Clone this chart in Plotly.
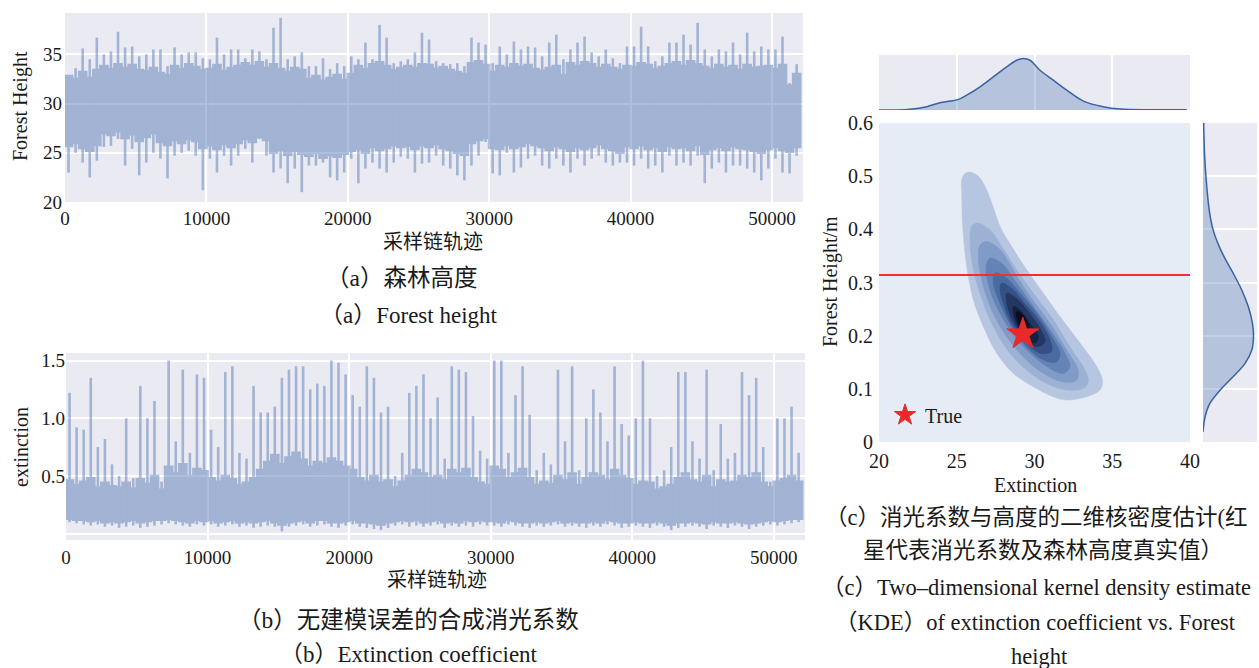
import plotly.graph_objects as go

W, H = 1259, 668
SERIF = "Liberation Serif, Noto Sans CJK SC"
TXT = "#1a1a1a"

# ---------------- data: MCMC trace of forest height (per 500-iteration bin) ----------------
BIN = 500
height_max = [32.8, 33.6, 35.6, 34.5, 36.7, 35.0, 35.3, 37.3, 35.7, 35.8,
              34.8, 35.0, 35.5, 35.5, 33.8, 35.7, 35.0, 35.2, 35.2, 34.6,
              34.5, 36.7, 35.0, 35.5, 35.5, 34.6, 35.5, 35.3, 34.5, 37.7,
              38.7, 34.5, 34.8, 35.2, 33.8, 33.8, 34.6, 33.5, 34.1, 33.8,
              34.8, 34.5, 36.2, 34.5, 38.0, 36.7, 34.1, 34.3, 34.5, 35.2,
              37.2, 36.5, 34.3, 34.1, 34.0, 34.1, 33.8, 36.7, 36.2, 36.0,
              34.1, 35.8, 35.0, 36.3, 35.5, 35.8, 35.7, 34.8, 36.2, 37.0,
              34.5, 35.5, 36.2, 36.8, 35.2, 34.8, 35.5, 34.6, 34.1, 35.8,
              35.8, 37.8, 35.8, 34.3, 34.8, 36.2, 36.2, 37.0, 36.0, 38.2,
              35.5, 34.8, 35.5, 35.3, 36.2, 35.0, 37.2, 35.3, 35.8, 35.5,
              35.5, 36.8, 32.1, 34.0]
height_min = [23.0, 25.0, 24.0, 22.5, 24.2, 25.6, 25.7, 26.4, 23.7, 25.4,
              22.7, 24.0, 25.0, 24.4, 22.4, 24.7, 25.0, 25.2, 24.7, 21.2,
              24.4, 23.0, 24.7, 23.7, 24.7, 25.4, 24.0, 26.4, 24.7, 23.0,
              23.4, 21.9, 23.4, 21.0, 23.7, 23.7, 24.0, 22.5, 22.2, 23.0,
              24.4, 21.9, 23.4, 24.0, 23.4, 23.0, 24.0, 24.6, 24.4, 23.0,
              23.9, 24.0, 24.7, 23.7, 23.4, 22.7, 22.2, 23.7, 24.7, 26.1,
              22.9, 22.7, 25.0, 23.0, 23.5, 24.4, 24.7, 23.7, 23.4, 24.4,
              23.7, 23.0, 24.4, 23.7, 24.4, 24.7, 24.0, 23.7, 24.0, 24.0,
              23.7, 24.4, 23.4, 23.7, 23.0, 24.7, 23.7, 24.0, 23.7, 24.7,
              21.9, 23.4, 24.0, 23.0, 23.7, 23.7, 23.4, 23.0, 22.2, 23.4,
              24.4, 23.0, 22.9, 24.7]
height_core_hi = [32.8, 32.5, 33.2, 32.6, 33.4, 33.8, 33.5, 34.0, 33.6, 33.9,
                  33.4, 33.3, 33.6, 33.1, 32.9, 33.8, 33.5, 34.0, 33.7, 33.4,
                  33.5, 33.9, 33.3, 33.6, 33.8, 34.1, 33.8, 34.2, 33.6, 34.0,
                  33.5, 33.2, 33.6, 33.4, 32.5, 32.8, 32.3, 32.6, 32.9, 32.4,
                  33.0, 33.8, 33.5, 34.0, 34.2, 33.8, 33.4, 33.6, 33.8, 33.6,
                  34.0, 33.9, 33.5, 33.7, 33.4, 33.2, 33.0, 34.1, 34.3, 33.9,
                  33.2, 33.8, 33.6, 34.0, 33.7, 33.9, 33.5, 33.3, 33.6, 33.8,
                  32.9, 34.1, 33.8, 34.2, 34.0, 33.6, 33.9, 33.6, 33.4, 33.8,
                  33.7, 34.1, 33.9, 33.5, 33.7, 34.0, 34.2, 33.8, 34.3, 34.0,
                  33.7, 33.5, 33.9, 33.6, 33.8, 33.4, 33.9, 33.6, 33.7, 33.8,
                  33.5, 33.9, 31.8, 33.0]
height_core_lo = [25.7, 26.0, 25.5, 25.2, 25.8, 27.0, 26.8, 27.2, 26.5, 26.9,
                  26.2, 26.6, 27.0, 26.1, 25.8, 26.3, 26.0, 26.4, 26.2, 25.5,
                  25.8, 25.4, 25.9, 25.6, 26.0, 26.4, 26.1, 26.6, 26.3, 25.0,
                  25.3, 24.8, 25.2, 24.9, 24.7, 25.0, 24.5, 24.8, 24.6, 24.9,
                  25.2, 25.4, 25.0, 25.6, 25.3, 25.5, 25.8, 25.6, 25.7, 25.4,
                  25.8, 25.6, 25.9, 25.5, 25.3, 25.0, 24.8, 26.0, 26.3, 26.5,
                  25.5, 25.4, 25.8, 25.5, 25.7, 26.0, 25.8, 25.6, 25.3, 25.7,
                  25.5, 25.2, 25.6, 25.4, 25.6, 25.9, 25.5, 25.3, 25.0, 25.7,
                  25.5, 25.8, 25.4, 25.6, 25.2, 25.7, 25.5, 25.6, 25.3, 25.8,
                  24.9, 25.4, 25.6, 25.3, 25.7, 25.5, 25.4, 25.2, 25.0, 25.4,
                  25.6, 25.3, 25.1, 25.6]

# ---------------- data: MCMC trace of extinction (per 500-iteration bin) ----------------
ext_max = [1.22, 0.92, 0.90, 1.35, 0.75, 0.82, 0.60, 0.50, 1.00, 0.48,
           1.28, 1.00, 1.15, 0.45, 1.50, 0.80, 1.42, 0.70, 1.38, 1.35,
           0.90, 0.75, 1.40, 1.45, 0.70, 0.65, 1.28, 1.05, 1.05, 1.10,
           1.35, 1.42, 1.45, 1.45, 1.25, 1.30, 1.28, 1.50, 1.48, 1.38,
           1.20, 1.10, 1.45, 1.35, 1.05, 1.10, 0.50, 0.70, 1.22, 1.28,
           1.38, 1.00, 1.18, 0.65, 1.45, 1.42, 1.40, 1.02, 0.72, 0.65,
           1.50, 1.50, 0.70, 1.20, 1.45, 1.03, 0.55, 0.70, 0.60, 1.42,
           0.80, 1.45, 0.55, 1.00, 1.25, 1.05, 0.80, 1.45, 0.95, 0.85,
           1.00, 1.50, 1.00, 0.50, 0.55, 0.75, 1.40, 1.40, 0.80, 0.65,
           1.42, 0.55, 0.95, 0.65, 0.70, 1.40, 1.20, 1.35, 0.75, 0.45,
           1.00, 1.00, 1.10, 0.70]
ext_min = [0.10, 0.09, 0.08, 0.07, 0.08, 0.06, 0.07, 0.05, 0.06, 0.07,
           0.05, 0.06, 0.07, 0.08, 0.09, 0.08, 0.07, 0.06, 0.08, 0.07,
           0.08, 0.06, 0.07, 0.08, 0.06, 0.07, 0.05, 0.06, 0.07, 0.06,
           0.02, 0.06, 0.07, 0.08, 0.06, 0.07, 0.08, 0.06, 0.05, 0.07,
           0.08, 0.06, 0.05, 0.04, 0.03, 0.05, 0.07, 0.08, 0.06, 0.07,
           0.06, 0.07, 0.08, 0.05, 0.07, 0.06, 0.07, 0.06, 0.08, 0.07,
           0.07, 0.06, 0.08, 0.07, 0.06, 0.05, 0.07, 0.06, 0.07, 0.08,
           0.06, 0.07, 0.06, 0.05, 0.07, 0.06, 0.08, 0.07, 0.05, 0.06,
           0.07, 0.06, 0.05, 0.07, 0.06, 0.03, 0.05, 0.06, 0.07, 0.06,
           0.04, 0.07, 0.06, 0.05, 0.07, 0.06, 0.04, 0.06, 0.07, 0.08,
           0.07, 0.08, 0.09, 0.10]
ext_core_hi = [0.46, 0.42, 0.45, 0.48, 0.40, 0.44, 0.41, 0.40, 0.44, 0.39,
               0.47, 0.43, 0.50, 0.38, 0.58, 0.52, 0.60, 0.50, 0.56, 0.54,
               0.48, 0.45, 0.50, 0.47, 0.42, 0.44, 0.48, 0.55, 0.62, 0.68,
               0.60, 0.66, 0.70, 0.64, 0.58, 0.62, 0.60, 0.65, 0.62, 0.58,
               0.55, 0.48, 0.45, 0.50, 0.44, 0.46, 0.40, 0.45, 0.50, 0.55,
               0.52, 0.48, 0.50, 0.46, 0.55, 0.52, 0.56, 0.48, 0.44, 0.42,
               0.58, 0.55, 0.48, 0.52, 0.56, 0.48, 0.42, 0.45, 0.43, 0.50,
               0.46, 0.52, 0.42, 0.48, 0.52, 0.50, 0.46, 0.55, 0.50, 0.47,
               0.42, 0.45, 0.44, 0.38, 0.40, 0.42, 0.48, 0.52, 0.46, 0.44,
               0.50, 0.40, 0.46, 0.44, 0.45, 0.50, 0.48, 0.52, 0.44, 0.40,
               0.45, 0.47, 0.50, 0.45]
ext_core_lo = [0.13, 0.12, 0.12, 0.11, 0.12, 0.10, 0.11, 0.10, 0.11, 0.12,
               0.10, 0.11, 0.12, 0.12, 0.13, 0.12, 0.11, 0.10, 0.12, 0.11,
               0.12, 0.10, 0.11, 0.12, 0.10, 0.11, 0.10, 0.11, 0.12, 0.10,
               0.08, 0.10, 0.11, 0.12, 0.10, 0.12, 0.12, 0.10, 0.10, 0.11,
               0.12, 0.10, 0.10, 0.09, 0.08, 0.10, 0.11, 0.12, 0.11, 0.12,
               0.10, 0.11, 0.12, 0.10, 0.11, 0.10, 0.12, 0.11, 0.12, 0.11,
               0.11, 0.10, 0.12, 0.11, 0.10, 0.10, 0.11, 0.10, 0.11, 0.12,
               0.10, 0.11, 0.10, 0.10, 0.11, 0.10, 0.12, 0.11, 0.10, 0.10,
               0.11, 0.10, 0.10, 0.11, 0.10, 0.08, 0.10, 0.10, 0.11, 0.10,
               0.09, 0.11, 0.10, 0.10, 0.11, 0.10, 0.09, 0.10, 0.11, 0.12,
               0.11, 0.12, 0.13, 0.13]

trace_ticks = [0, 10000, 20000, 30000, 40000, 50000]

# ---------------- data: 2-D KDE contour outlines (extinction, height) ----------------
kde_x_1 = [25.85, 26.39, 26.82, 27.25, 27.78, 28.53, 29.50, 30.57, 31.64, 32.93, 34.0, 34.38, 34.21,
           33.35, 32.07, 31.21, 29.93, 28.64, 27.57, 26.71, 26.07, 25.64, 25.38, 25.32, 25.32, 25.53]
kde_y_1 = [0.508, 0.500, 0.481, 0.450, 0.406, 0.368, 0.324, 0.280, 0.236, 0.186, 0.142, 0.116, 0.098,
           0.085, 0.079, 0.085, 0.104, 0.129, 0.167, 0.217, 0.267, 0.330, 0.406, 0.469, 0.494, 0.505]
kde_x_2 = [26.28, 27.14, 27.89, 28.85, 29.93, 31.21, 32.28, 33.25, 33.46, 33.14, 32.07, 30.78, 29.5,
           28.42, 27.46, 26.71, 26.07, 25.85, 25.96]
kde_y_2 = [0.412, 0.399, 0.368, 0.324, 0.280, 0.230, 0.179, 0.135, 0.113, 0.101, 0.098, 0.110, 0.135,
           0.167, 0.211, 0.261, 0.324, 0.381, 0.406]
kde_x_3 = [26.92, 27.78, 28.75, 29.71, 31.0, 32.07, 32.82, 32.71, 31.85, 30.57, 29.28, 28.21, 27.25,
           26.6, 26.39, 26.5]
kde_y_3 = [0.377, 0.362, 0.318, 0.274, 0.223, 0.173, 0.135, 0.116, 0.113, 0.129, 0.160, 0.198, 0.248,
           0.305, 0.349, 0.371]
kde_x_4 = [27.14, 27.89, 28.85, 29.93, 31.0, 31.96, 32.28, 31.85, 30.78, 29.5, 28.42, 27.46, 26.92, 26.92]
kde_y_4 = [0.346, 0.336, 0.299, 0.255, 0.211, 0.167, 0.142, 0.129, 0.142, 0.173, 0.211, 0.261, 0.311, 0.336]
kde_x_5 = [27.46, 28.21, 29.07, 30.14, 31.1, 31.64, 31.43, 30.57, 29.5, 28.53, 27.78, 27.35]
kde_y_5 = [0.318, 0.308, 0.280, 0.242, 0.198, 0.167, 0.151, 0.154, 0.179, 0.217, 0.261, 0.299]
kde_x_6 = [27.89, 28.53, 29.28, 30.25, 31.0, 31.1, 30.35, 29.39, 28.53, 27.99, 27.78]
kde_y_6 = [0.299, 0.289, 0.264, 0.230, 0.192, 0.170, 0.167, 0.189, 0.223, 0.261, 0.286]
kde_x_7 = [28.21, 28.85, 29.6, 30.35, 30.68, 30.14, 29.28, 28.53, 28.21]
kde_y_7 = [0.280, 0.270, 0.245, 0.214, 0.189, 0.179, 0.198, 0.233, 0.261]
kde_x_8 = [28.64, 29.07, 29.71, 30.25, 30.03, 29.39, 28.85, 28.64]
kde_y_8 = [0.255, 0.248, 0.223, 0.198, 0.186, 0.198, 0.223, 0.242]
kde_x_9 = [28.85, 29.18, 29.6, 29.5, 29.18, 28.9]
kde_y_9 = [0.245, 0.241, 0.220, 0.208, 0.214, 0.230]
kde_colors = ["rgb(182,198,224)", "rgb(156,177,212)", "rgb(128,155,198)", "rgb(100,131,182)",
              "rgb(74,106,160)", "rgb(52,80,132)", "rgb(35,55,98)", "rgb(20,32,64)", "rgb(8,12,28)"]

# marginal densities
marg_top_x = [20.0, 21.14, 21.99, 23.07, 23.92, 24.57, 25.10, 25.64, 26.50, 27.35, 28.21, 28.85,
              29.28, 29.71, 30.35, 31.21, 32.07, 33.14, 34.43, 35.50, 37.64, 39.79]
marg_top_d = [0.0, 0.0, 0.013, 0.065, 0.142, 0.174, 0.206, 0.29, 0.452, 0.645, 0.839, 0.968,
              1.0, 0.968, 0.774, 0.581, 0.387, 0.174, 0.065, 0.019, 0.006, 0.006]
marg_right_y = [0.600, 0.537, 0.474, 0.430, 0.399, 0.368, 0.342, 0.317, 0.286, 0.254, 0.223,
                0.198, 0.173, 0.148, 0.123, 0.097, 0.072, 0.047, 0.019]
marg_right_d = [0.013, 0.033, 0.08, 0.133, 0.2, 0.32, 0.453, 0.6, 0.767, 0.9, 0.98,
                1.0, 0.967, 0.833, 0.6, 0.333, 0.133, 0.04, 0.0]

true_extinction = 29.25
true_height = 0.203
red_line_height = 0.314

kde_xticks = [20, 25, 30, 35, 40]
kde_yticks = [0, 0.1, 0.2, 0.3, 0.4, 0.5, 0.6]
kde_yticktext = ["0", "0.1", "0.2", "0.3", "0.4", "0.5", "0.6"]

# ---------------- figure ----------------
def trace_path(vmax, vmin, core_hi, core_lo):
    n = len(core_hi)
    xs, ys = [], []
    for i in range(n):
        xs += [i * BIN, (i + 1) * BIN]
        ys += [core_hi[i], core_hi[i]]
    for i in reversed(range(n)):
        xs += [(i + 1) * BIN, i * BIN]
        ys += [core_lo[i], core_lo[i]]
    xs.append(xs[0]); ys.append(ys[0])
    for i, (a, b) in enumerate(zip(vmax, vmin)):
        c = i * BIN + BIN / 2
        xs += [None, c, c]
        ys += [None, b, a]
    return xs, ys

fig = go.Figure()
SB = "#4C72B0"
for (mx, mn, hi, lo, xa, ya) in [(height_max, height_min, height_core_hi, height_core_lo, "x", "y"),
                                 (ext_max, ext_min, ext_core_hi, ext_core_lo, "x2", "y2")]:
    xs, ys = trace_path(mx, mn, hi, lo)
    fig.add_trace(go.Scatter(x=xs, y=ys, mode="lines", fill="toself", fillcolor=SB,
                             line=dict(color=SB, width=2.6), opacity=0.45, connectgaps=False,
                             xaxis=xa, yaxis=ya, showlegend=False, hoverinfo="skip"))

kx = [kde_x_1, kde_x_2, kde_x_3, kde_x_4, kde_x_5, kde_x_6, kde_x_7, kde_x_8, kde_x_9]
ky = [kde_y_1, kde_y_2, kde_y_3, kde_y_4, kde_y_5, kde_y_6, kde_y_7, kde_y_8, kde_y_9]
for xs, ys, col in zip(kx, ky, kde_colors):
    fig.add_trace(go.Scatter(x=xs + [xs[0]], y=ys + [ys[0]], mode="lines", fill="toself",
                             fillcolor=col, line=dict(color=col, width=0.5, shape="spline", smoothing=1.0),
                             xaxis="x3", yaxis="y3", showlegend=False, hoverinfo="skip"))

fig.add_trace(go.Scatter(x=[true_extinction], y=[true_height], mode="markers", name="True",
                         marker=dict(symbol="star", size=24, color="#ea2a2a",
                                     line=dict(color="#ea2a2a", width=1)),
                         xaxis="x3", yaxis="y3", showlegend=True))

fig.add_trace(go.Scatter(x=marg_top_x, y=marg_top_d, mode="lines", fill="tozeroy",
                         fillcolor="rgba(76,114,176,0.33)", line=dict(color="#3a62a6", width=1.5, shape="spline"),
                         xaxis="x4", yaxis="y4", showlegend=False, hoverinfo="skip"))
fig.add_trace(go.Scatter(x=marg_right_d, y=marg_right_y, mode="lines", fill="tozerox",
                         fillcolor="rgba(76,114,176,0.33)", line=dict(color="#3a62a6", width=1.5, shape="spline"),
                         xaxis="x5", yaxis="y5", showlegend=False, hoverinfo="skip"))

def px_x(a, b):
    return [a / W, b / W]

def px_y(top, bottom):
    return [1 - bottom / H, 1 - top / H]

tickf = dict(family=SERIF, size=19, color=TXT)
tickf_k = dict(family=SERIF, size=20, color=TXT)
grid = dict(showgrid=True, gridcolor="white", gridwidth=1.6, zeroline=False, showline=False,
            ticks="", automargin=False)
plain = dict(zeroline=False, showline=False, ticks="", automargin=False)

fig.update_layout(
    width=W, height=H, autosize=False,
    margin=dict(l=0, r=0, t=0, b=0, pad=0, autoexpand=False),
    paper_bgcolor="white", plot_bgcolor="#eaeaf2",
    xaxis=dict(domain=px_x(65, 803), range=[0, 52200], anchor="y", tickvals=trace_ticks,
               ticktext=[str(t) for t in trace_ticks], tickfont=tickf, ticklabelstandoff=3, **grid),
    yaxis=dict(domain=px_y(13, 202), range=[20, 39.2], anchor="x", tickvals=[20, 25, 30, 35],
               tickfont=tickf, ticklabelstandoff=2, **grid),
    xaxis2=dict(domain=px_x(66, 805), range=[0, 52200], anchor="y2", tickvals=trace_ticks,
                ticktext=[str(t) for t in trace_ticks], tickfont=tickf, ticklabelstandoff=4, **grid),
    yaxis2=dict(domain=px_y(353, 540), range=[-0.055, 1.565], anchor="x2", tickvals=[0, 0.5, 1.0, 1.5],
                ticktext=["", "0.5", "1.0", "1.5"], tickfont=tickf, **grid),
    xaxis3=dict(domain=px_x(879, 1190), range=[20, 40], anchor="y3", tickvals=kde_xticks,
                tickfont=tickf_k, showgrid=False, ticklabelstandoff=5, **plain),
    yaxis3=dict(domain=px_y(123, 442), range=[0, 0.6], anchor="x3", tickvals=kde_yticks,
                ticktext=kde_yticktext, tickfont=tickf_k, showgrid=False, ticklabelstandoff=5, **plain),
    xaxis4=dict(domain=px_x(879, 1190), range=[20, 40], anchor="y4", tickvals=[25, 30, 35],
                showticklabels=False, **grid),
    yaxis4=dict(domain=px_y(55, 110), range=[0, 1.07], anchor="x4", showgrid=False,
                showticklabels=False, **plain),
    xaxis5=dict(domain=px_x(1203, 1257), range=[0, 1.07], anchor="y5", showgrid=False,
                showticklabels=False, **plain),
    yaxis5=dict(domain=px_y(123, 442), range=[0, 0.6], anchor="x5", tickvals=[0.1, 0.2, 0.3, 0.4, 0.5],
                showticklabels=False, **grid),
    legend=dict(x=885 / W, y=1 - 415 / H, xanchor="left", yanchor="middle",
                bgcolor="rgba(0,0,0,0)", font=dict(family=SERIF, size=20, color=TXT),
                itemsizing="trace"),
)

fig.add_shape(type="rect", xref="x3 domain", yref="y3 domain", x0=0, x1=1, y0=0, y1=1,
              fillcolor="#e6ecf5", line=dict(width=0), layer="below")
fig.add_shape(type="line", xref="x3", yref="y3", x0=20, x1=40, y0=red_line_height, y1=red_line_height,
              line=dict(color="#ee3030", width=2))

def ann(text, cx, cy, size, angle=0, family=SERIF):
    fig.add_annotation(text=text, x=cx / W, y=1 - cy / H, xref="paper", yref="paper",
                       xanchor="center", yanchor="middle", showarrow=False, textangle=angle,
                       font=dict(family=family, size=size, color=TXT))

CN = 23.5
EN = 23
CN_C = 22.5
EN_C = 22.5
ann("Forest Height", 21, 106, 20, -90)
ann("采样链轨迹", 433, 242, 20)
ann("（a）森林高度", 401, 278, CN)
ann("（a）Forest height", 409, 315, EN)
ann("extinction", 21, 447, 20, -90)
ann("采样链轨迹", 437, 580, 20)
ann("（b）无建模误差的合成消光系数", 408, 620, CN)
ann("（b）Extinction coefficient", 409, 654, EN)
ann("Forest Height/m", 831, 282, 20, -90)
ann("Extinction", 1035, 485, 20)
ann("（c）消光系数与高度的二维核密度估计(红", 1036, 517, CN_C)
ann("星代表消光系数及森林高度真实值）", 1043, 550, CN_C)
ann("（c）Two–dimensional kernel density estimate", 1036, 587, EN_C)
ann("（KDE）of extinction coefficient vs. Forest", 1035, 622, EN_C)
ann("height", 1039, 656, EN_C)

fig.write_html("out.html")
